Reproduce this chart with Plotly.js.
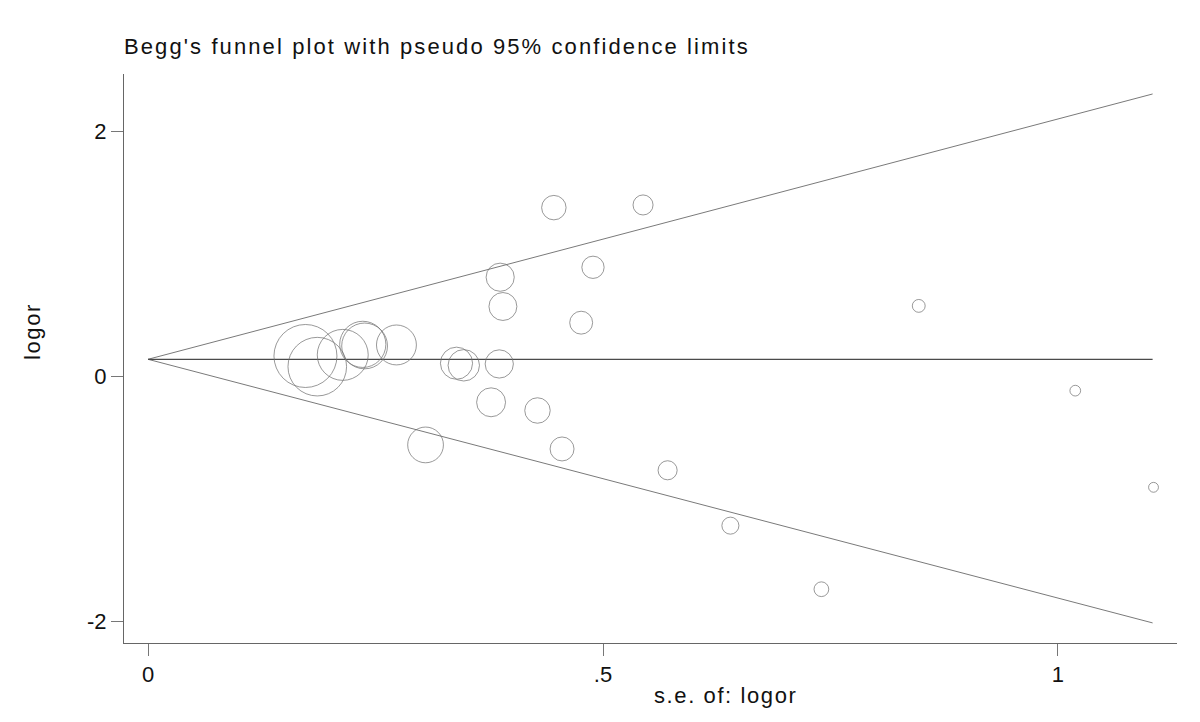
<!DOCTYPE html>
<html>
<head>
<meta charset="utf-8">
<script src="https://cdn.plot.ly/plotly-3.0.1.min.js"></script>
<style>
  body { margin: 0; background: #fff; }
  .gtitle { letter-spacing: 2.1px; }
  .annotation-text { letter-spacing: 1.6px; }
</style>
</head>
<body>
<div id="funnel"></div>
<script>
// standard error of each study (x) and its log odds ratio (y)
var seLogor = [0.173, 0.186, 0.214, 0.238, 0.236, 0.273, 0.305, 0.339, 0.347, 0.386,
               0.377, 0.428, 0.387, 0.390, 0.446, 0.544, 0.489, 0.476, 0.455, 0.571,
               0.640, 0.740, 0.847, 1.019, 1.105];
var logor = [0.167, 0.080, 0.176, 0.249, 0.262, 0.257, -0.559, 0.108, 0.091, 0.102,
             -0.211, -0.278, 0.810, 0.571, 1.378, 1.400, 0.891, 0.439, -0.592, -0.766,
             -1.218, -1.737, 0.576, -0.116, -0.905];

// pooled estimate line and pseudo 95% limits, read at se = 0 and se = max
var limitSe = [0, 1.104];
var pooled = [0.14, 0.14];
var upperLimit = [0.14, 2.306];
var lowerLimit = [0.14, -2.012];

var xTickVals = [0, 0.5, 1];
var xTickText = ['0', '.5', '1'];
var yTickVals = [-2, 0, 2];
var yTickText = ['-2', '0', '2'];

// marker area proportional to weight 1/se^2, so diameter ~ 1/se
var sizes = seLogor.map(function (s) { return 10.9 / s; });

var limLine = {color: '#7a7a7a', width: 1};

var data = [
  {x: limitSe, y: upperLimit, type: 'scatter', mode: 'lines', line: limLine, hoverinfo: 'skip'},
  {x: limitSe, y: lowerLimit, type: 'scatter', mode: 'lines', line: limLine, hoverinfo: 'skip'},
  {x: limitSe, y: pooled, type: 'scatter', mode: 'lines', line: {color: '#4a4a4a', width: 1.2}, hoverinfo: 'skip'},
  {
    x: seLogor,
    y: logor,
    type: 'scatter',
    mode: 'markers',
    marker: {
      symbol: 'circle-open',
      size: sizes,
      color: '#6e6e6e',
      line: {width: 1, color: '#6e6e6e'}
    }
  }
];

var font = {family: '"Liberation Sans", Arial, sans-serif', size: 22, color: '#111'};

var layout = {
  width: 1200,
  height: 722,
  showlegend: false,
  paper_bgcolor: '#fff',
  plot_bgcolor: '#fff',
  margin: {l: 124, r: 23, t: 74, b: 79},
  font: font,
  title: {
    text: "Begg's funnel plot with pseudo 95% confidence limits",
    font: font,
    xref: 'paper', x: 0, xanchor: 'left',
    yref: 'container', y: 1 - 46 / 722, yanchor: 'middle'
  },
  xaxis: {
    range: [-0.0264, 1.1308],
    tickvals: xTickVals,
    ticktext: xTickText,
    ticks: 'outside', ticklen: 12, tickcolor: '#777', tickwidth: 1,
    showline: true, linecolor: '#666', linewidth: 1,
    showgrid: false, zeroline: false,
    tickfont: font
  },
  yaxis: {
    range: [-2.176, 2.469],
    tickvals: yTickVals,
    ticktext: yTickText,
    ticks: 'outside', ticklen: 12, tickcolor: '#777', tickwidth: 1,
    showline: true, linecolor: '#666', linewidth: 1,
    showgrid: false, zeroline: false,
    tickfont: font
  },
  annotations: [
    {text: 's.e. of: logor', xref: 'paper', yref: 'paper', x: 0.5708, y: -0.0914,
     xanchor: 'center', yanchor: 'middle', showarrow: false, font: font},
    {text: 'logor', xref: 'paper', yref: 'paper', x: -0.0864, y: 0.5466, textangle: -90,
     xanchor: 'center', yanchor: 'middle', showarrow: false, font: font}
  ]
};

Plotly.newPlot('funnel', data, layout, {displayModeBar: false, staticPlot: true});
</script>
</body>
</html>
